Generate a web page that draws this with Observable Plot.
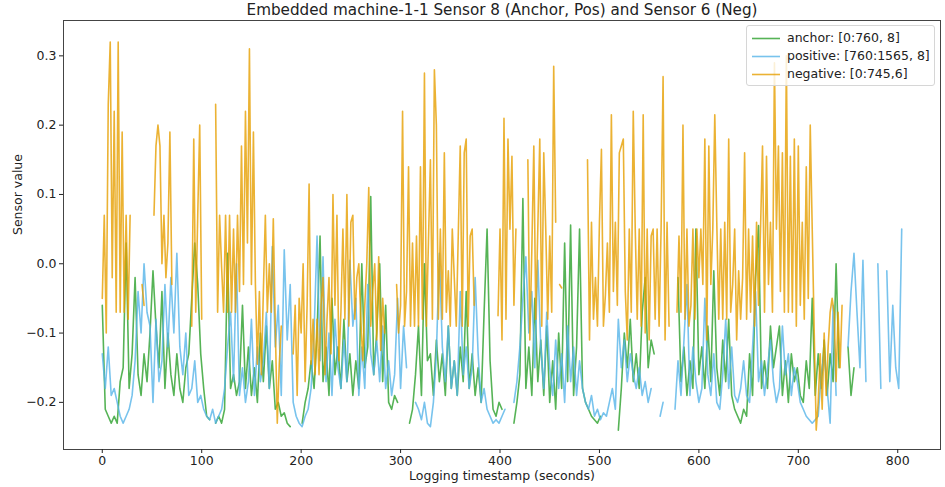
<!DOCTYPE html>
<html><head><meta charset="utf-8">
<script src="https://cdn.jsdelivr.net/npm/d3@7"></script>
<script src="https://cdn.jsdelivr.net/npm/@observablehq/plot@0.6"></script>
<style>
html,body{margin:0;padding:0;background:#fff;}
#wrap{position:relative;width:945px;height:487px;font-family:"DejaVu Sans",sans-serif;}
#legend{position:absolute;left:746px;top:25px;width:189px;height:61px;box-sizing:border-box;border:1px solid #d6d6d6;border-radius:3px;background:rgba(255,255,255,0.8);}
.row{position:absolute;left:0;height:18px;width:100%;}
.row svg{position:absolute;left:4px;top:8px;}
.row span{position:absolute;left:40px;top:0;font-size:12.5px;line-height:18px;color:#222;white-space:nowrap;}
</style></head>
<body><div id="wrap"><div id="legend"></div></div>
<script>
const title = "Embedded machine-1-1 Sensor 8 (Anchor, Pos) and Sensor 6 (Neg)";
const xLabel = "Logging timestamp (seconds)";
const yLabel = "Sensor value";
const seriesNames = ["anchor: [0:760, 8]", "positive: [760:1565, 8]", "negative: [0:745,6]"];
const seriesColors = ["#2ca02c", "#56b4e9", "#e69f00"];
const seriesSteps = [3, 3, 2]; // seconds between samples
const xTicks = [0, 100, 200, 300, 400, 500, 600, 700, 800];
const yTicks = [-0.2, -0.1, 0.0, 0.1, 0.2, 0.3];

const anchorValues = [
-0.06,-0.21,-0.22,-0.23,-0.22,-0.23,-0.17,-0.15,0.03,-0.18,
-0.13,-0.02,-0.16,-0.19,-0.13,-0.17,-0.10,-0.01,-0.09,-0.15,
-0.04,-0.18,-0.10,-0.16,-0.19,-0.13,-0.18,-0.20,-0.15,-0.13,
-0.05,0.03,-0.03,-0.13,-0.18,-0.22,-0.225,null,-0.23,-0.22,
-0.23,-0.21,0.015,-0.18,-0.16,-0.19,-0.17,-0.06,-0.18,-0.12,
-0.19,-0.15,-0.20,-0.10,-0.17,-0.09,-0.18,-0.14,-0.21,-0.20,
-0.22,-0.215,-0.23,-0.235,null,null,null,-0.23,-0.20,-0.18,
-0.14,-0.18,-0.10,0.04,-0.17,-0.12,-0.19,-0.05,-0.16,-0.12,
-0.18,-0.08,-0.17,-0.13,-0.19,-0.14,-0.18,0.0,-0.15,-0.12,
0.097,-0.16,-0.10,0.0,-0.17,-0.06,-0.20,-0.21,-0.19,-0.20,
null,null,null,-0.23,-0.21,-0.16,-0.09,-0.19,0.0,-0.14,
-0.13,-0.19,-0.11,-0.17,-0.13,-0.19,-0.09,-0.18,-0.14,-0.19,
-0.12,-0.17,-0.04,-0.18,-0.13,-0.19,-0.15,-0.20,-0.07,0.05,
-0.14,-0.21,-0.22,-0.20,-0.21,null,null,null,-0.23,-0.20,
-0.16,0.094,-0.18,-0.12,-0.19,-0.05,-0.17,-0.11,-0.19,-0.09,
-0.20,-0.14,-0.21,-0.10,-0.18,0.03,-0.17,0.056,-0.19,-0.12,
0.05,-0.18,-0.20,-0.21,-0.22,-0.225,-0.23,-0.22,null,null,
null,null,null,-0.24,-0.18,-0.10,-0.15,-0.08,-0.17,-0.13,
-0.18,-0.07,-0.02,-0.15,-0.11,-0.13,null,null,null,null,
null,null,null,-0.02,-0.17,-0.12,-0.19,-0.14,-0.18,0.05,
-0.16,-0.12,-0.18,-0.09,-0.17,-0.01,-0.15,-0.19,-0.11,-0.17,
-0.08,-0.19,-0.21,-0.22,-0.23,-0.21,-0.22,-0.13,-0.19,-0.02,
0.055,-0.18,-0.14,-0.18,-0.09,-0.15,-0.12,-0.09,-0.19,-0.14,
-0.20,-0.13,-0.17,-0.15,-0.19,-0.20,-0.14,-0.18,-0.05,-0.19,
-0.13,-0.18,-0.11,-0.19,-0.13,-0.17,0.0,-0.15,null,null,
-0.12,-0.19,-0.15
];

const positiveValues = [
-0.13,-0.18,-0.12,-0.19,-0.18,-0.20,-0.22,-0.23,-0.22,-0.21,
-0.19,-0.14,-0.04,-0.10,0.0,-0.07,-0.09,-0.20,-0.08,-0.17,
-0.14,-0.03,-0.12,-0.02,-0.10,0.015,-0.12,-0.16,-0.10,-0.19,
-0.18,-0.14,-0.20,-0.19,-0.21,-0.22,-0.225,-0.21,-0.23,-0.22,
-0.21,-0.18,-0.12,-0.07,-0.17,0.0,-0.19,-0.15,-0.20,-0.17,
-0.08,-0.19,-0.12,-0.17,-0.14,-0.07,-0.18,0.025,-0.12,-0.06,
-0.19,0.02,-0.11,-0.03,-0.20,-0.22,-0.23,-0.235,-0.22,-0.21,
-0.18,-0.10,0.04,-0.14,0.01,-0.17,-0.10,-0.19,-0.08,-0.15,
-0.18,-0.11,-0.17,0.005,-0.09,-0.05,-0.19,-0.12,-0.18,-0.03,
-0.13,-0.16,-0.11,-0.17,-0.09,-0.18,-0.14,-0.19,-0.16,-0.05,
-0.18,-0.09,-0.15,null,null,-0.20,-0.21,-0.225,-0.20,-0.23,
-0.235,-0.20,-0.13,0.015,-0.12,-0.17,-0.09,-0.18,-0.14,-0.19,
-0.04,-0.16,-0.12,-0.18,-0.15,-0.02,-0.13,-0.20,-0.18,-0.21,
-0.22,-0.23,-0.225,-0.23,-0.22,-0.21,null,null,-0.20,-0.17,
-0.12,-0.05,0.01,-0.10,-0.04,-0.15,0.005,-0.12,-0.18,-0.07,
-0.15,-0.19,-0.11,-0.18,-0.13,-0.20,-0.09,-0.17,-0.12,-0.19,
-0.14,-0.18,-0.20,-0.21,-0.19,-0.22,-0.21,-0.225,-0.215,-0.22,
-0.20,-0.18,-0.21,-0.08,-0.15,-0.11,-0.17,-0.13,-0.16,-0.18,
-0.15,-0.19,-0.17,-0.20,-0.18,null,null,-0.22,-0.20,null,
null,null,-0.21,-0.14,-0.19,-0.11,-0.03,-0.19,-0.12,-0.17,
-0.20,-0.18,-0.05,-0.16,-0.19,-0.13,-0.20,-0.21,-0.16,-0.08,
-0.18,-0.12,-0.19,-0.20,-0.18,-0.14,-0.19,-0.20,-0.12,-0.04,
-0.17,-0.14,-0.19,-0.15,-0.11,-0.17,-0.20,-0.18,-0.09,-0.16,
-0.13,-0.19,-0.15,-0.17,-0.20,-0.21,-0.22,-0.225,-0.23,-0.225,
-0.22,-0.16,-0.13,-0.18,-0.23,-0.06,-0.19,null,null,null,
-0.12,-0.04,0.015,-0.07,-0.15,0.005,-0.17,null,null,null,
0.0,-0.18,null,-0.01,-0.17,-0.06,-0.15,-0.18,0.05
];

const negativeValues = [
-0.05,0.07,-0.10,0.23,0.32,-0.02,0.22,-0.07,0.32,-0.07,0.19,-0.07,0.07,-0.08,0.07,
null,null,null,null,null,-0.03,-0.06,null,null,null,null,0.07,0.17,0.20,0.17,
0.0,0.07,-0.02,0.03,0.19,-0.03,null,null,null,null,null,null,null,null,null,
-0.09,0.18,-0.07,0.07,0.20,-0.08,null,null,null,null,null,null,0.23,-0.07,0.07,
-0.005,-0.07,0.07,-0.07,0.07,-0.07,0.05,-0.07,0.07,-0.04,0.17,-0.03,0.22,0.03,0.31,
-0.03,0.19,-0.03,-0.145,-0.04,-0.16,-0.04,0.07,-0.07,0.0,-0.07,0.065,-0.09,-0.23,-0.145,
-0.09,null,null,null,null,null,-0.13,-0.06,-0.19,-0.05,-0.10,0.0,-0.17,-0.06,0.115,
-0.145,-0.08,-0.16,-0.08,-0.16,-0.06,-0.02,-0.16,-0.08,-0.02,-0.13,0.10,-0.06,0.07,-0.14,
-0.07,0.05,-0.08,0.10,-0.09,0.06,0.07,-0.08,-0.02,0.0,-0.08,-0.14,-0.06,0.0,0.11,
-0.09,-0.04,0.0,-0.11,0.01,-0.125,-0.05,-0.10,null,null,null,null,null,-0.03,-0.10,
-0.06,0.22,-0.09,-0.04,0.14,-0.09,0.03,-0.09,0.04,-0.09,0.14,-0.08,0.275,-0.09,0.03,
0.15,-0.08,0.28,0.20,-0.08,0.05,-0.08,0.16,-0.07,-0.01,-0.09,0.05,-0.02,-0.09,0.04,
0.17,-0.09,0.16,0.18,-0.09,0.04,0.05,-0.06,null,null,null,null,null,null,null,
null,null,null,null,-0.075,0.05,-0.11,0.21,-0.08,0.18,0.05,0.155,-0.06,0.05,null,
null,null,null,null,0.15,-0.11,0.02,0.17,-0.08,0.05,0.18,-0.09,0.16,0.05,-0.08,
0.04,-0.07,0.285,0.06,null,-0.03,-0.035,null,null,null,null,null,null,null,null,
null,null,null,null,0.15,-0.11,0.06,-0.08,-0.02,-0.09,0.06,0.165,-0.09,-0.045,0.03,
-0.07,0.215,-0.04,0.06,-0.06,0.16,0.17,0.18,-0.04,-0.11,0.05,-0.07,0.22,0.05,-0.08,
0.05,-0.09,0.215,-0.10,0.05,-0.11,0.04,0.05,-0.08,0.05,-0.09,0.05,0.27,-0.11,0.06,
-0.09,null,null,null,-0.07,0.04,-0.07,0.20,-0.08,0.05,-0.09,-0.06,0.05,-0.08,0.05,
-0.02,0.05,-0.03,0.18,-0.11,0.17,-0.03,0.05,0.215,0.06,-0.08,0.05,-0.08,0.06,-0.08,
0.18,-0.07,-0.03,0.05,-0.11,-0.01,-0.08,-0.02,0.16,-0.08,0.05,-0.07,0.04,-0.09,0.06,
-0.06,0.05,0.17,-0.07,0.155,-0.03,0.06,-0.07,0.29,0.05,0.17,-0.04,0.16,-0.07,0.30,
-0.07,0.155,-0.07,0.18,-0.09,0.17,-0.06,0.06,-0.08,0.14,-0.05,0.20,0.05,-0.10,-0.24,
-0.20,-0.13,-0.21,-0.10,-0.19,-0.12,-0.07,-0.05,-0.07,-0.17,-0.07,-0.15,-0.06
];

const allSeries = [anchorValues, positiveValues, negativeValues];
const toRows = (vals, step) => vals.map((v, i) => ({t: i * step, v}));

const lineMarks = allSeries.map((vals, k) =>
  Plot.line(toRows(vals, seriesSteps[k]), {
    x: "t", y: "v", stroke: seriesColors[k], strokeWidth: 1.6, strokeOpacity: 0.8
  })
);

const chart = Plot.plot({
  width: 945, height: 487,
  marginLeft: 63, marginRight: 5, marginTop: 20, marginBottom: 38,
  style: {fontFamily: "'DejaVu Sans', sans-serif", background: "#fff", color: "#222"},
  x: {domain: [-39, 843]},
  y: {domain: [-0.268, 0.351]},
  marks: [
    ...lineMarks,
    Plot.frame({stroke: "#444", strokeWidth: 1}),
    Plot.axisX(xTicks, {tickSize: 4, tickPadding: 3, fontSize: 12.5, label: null, tickFormat: d => String(d)}),
    Plot.axisY(yTicks, {tickSize: 4, tickPadding: 3, fontSize: 12.5, label: null, tickFormat: d3.format(".1f")}),
    Plot.text([title], {text: d => d, frameAnchor: "top", lineAnchor: "middle", dy: -10, fontSize: 15.2, fill: "#222"}),
    Plot.text([xLabel], {text: d => d, frameAnchor: "bottom", lineAnchor: "middle", dy: 26, fontSize: 12.5, fill: "#222"}),
    Plot.text([yLabel], {text: d => d, frameAnchor: "left", lineAnchor: "middle", dx: -46, rotate: -90, fontSize: 12.5, fill: "#222"})
  ]
});
document.getElementById("wrap").prepend(chart);

const legend = document.getElementById("legend");
seriesNames.forEach((name, k) => {
  const row = document.createElement("div");
  row.className = "row";
  row.style.top = (3 + k * 18) + "px";
  row.innerHTML = `<svg width="30" height="3"><line x1="1" y1="1.5" x2="29" y2="1.5" stroke="${seriesColors[k]}" stroke-opacity="0.8" stroke-width="1.6"/></svg><span>${name}</span>`;
  legend.appendChild(row);
});
</script>
</body></html>
